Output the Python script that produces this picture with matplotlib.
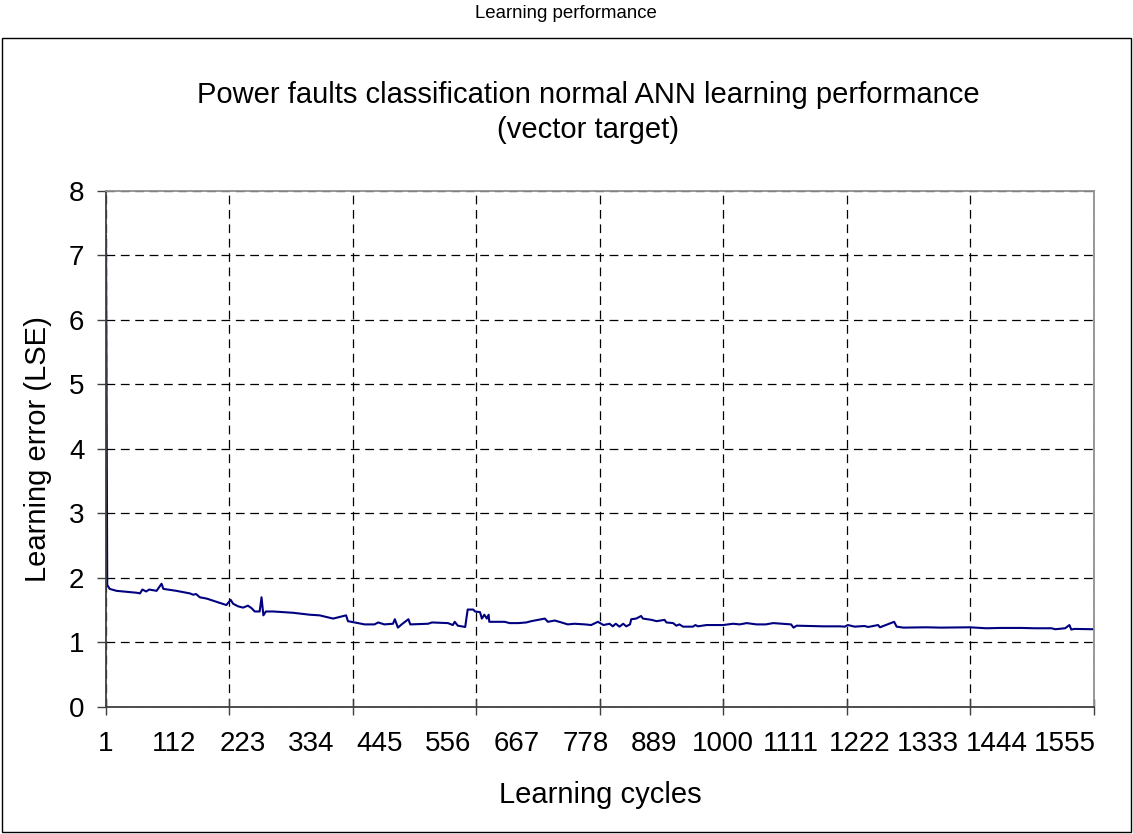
import matplotlib
matplotlib.use("Agg")
import matplotlib.pyplot as plt
from matplotlib.patches import Rectangle

plt.rcParams['font.family'] = ['Liberation Sans', 'DejaVu Sans']

# ---------------- DATA ----------------

cycles = [1, 3, 7, 18, 51, 56, 60, 66, 71, 83, 91, 94, 115, 137, 142, 147, 153,
          164, 180, 196, 203, 207, 215, 223, 231, 237, 242, 250, 253, 256, 260,
          272, 304, 331, 347, 369, 390, 393, 404, 420, 436, 442, 452, 466, 469,
          474, 480, 491, 494, 523, 529, 555, 563, 566, 571, 583, 587, 596, 599,
          607, 610, 614, 618, 621, 622, 647, 655, 669, 682, 690, 701, 712, 717,
          728, 739, 749, 760, 777, 787, 798, 807, 817, 822, 827, 833, 839, 844,
          850, 852, 860, 868, 871, 885, 893, 906, 909, 920, 925, 930, 936, 952,
          956, 960, 974, 1001, 1017, 1028, 1039, 1055, 1070, 1082, 1111, 1115,
          1120, 1163, 1190, 1198, 1203, 1214, 1230, 1236, 1252, 1255, 1278, 1282,
          1293, 1330, 1354, 1401, 1427, 1450, 1484, 1505, 1533, 1539, 1555, 1562,
          1565, 1570, 1600]

error = [7.30, 1.89, 1.83, 1.80, 1.77, 1.76, 1.82, 1.79, 1.82, 1.80, 1.91, 1.83,
         1.80, 1.76, 1.74, 1.75, 1.70, 1.68, 1.63, 1.58, 1.66, 1.60, 1.56, 1.54,
         1.57, 1.53, 1.48, 1.48, 1.70, 1.42, 1.48, 1.48, 1.46, 1.43, 1.42, 1.37,
         1.42, 1.33, 1.31, 1.28, 1.28, 1.31, 1.28, 1.29, 1.36, 1.23, 1.28, 1.36,
         1.28, 1.29, 1.31, 1.30, 1.27, 1.32, 1.26, 1.24, 1.51, 1.51, 1.48, 1.47,
         1.37, 1.43, 1.37, 1.43, 1.32, 1.32, 1.30, 1.30, 1.31, 1.33, 1.35, 1.37,
         1.32, 1.34, 1.31, 1.28, 1.29, 1.28, 1.27, 1.32, 1.27, 1.29, 1.25, 1.29,
         1.245, 1.29, 1.25, 1.28, 1.36, 1.37, 1.41, 1.37, 1.35, 1.33, 1.35, 1.31,
         1.30, 1.26, 1.28, 1.245, 1.245, 1.27, 1.25, 1.27, 1.27, 1.29, 1.28, 1.30,
         1.28, 1.28, 1.30, 1.28, 1.23, 1.26, 1.25, 1.25, 1.245, 1.27, 1.245,
         1.255, 1.24, 1.27, 1.235, 1.32, 1.245, 1.23, 1.235, 1.23, 1.235, 1.22,
         1.225, 1.225, 1.22, 1.22, 1.205, 1.22, 1.27, 1.20, 1.21, 1.205]

x_labels = [1, 112, 223, 334, 445, 556, 667, 778, 889, 1000, 1111, 1222, 1333,
            1444, 1555]
x_grid = [1, 201, 401, 601, 801, 1001, 1201, 1401, 1601]
y_ticks = [0, 1, 2, 3, 4, 5, 6, 7, 8]

# ---------------- FIGURE ----------------

W, H = 1133, 834
fig = plt.figure(figsize=(W / 100, H / 100), dpi=100)

# outer chart border
fig.patches.append(Rectangle((2 / W, 2 / H), 1129 / W, 794 / H,
                             transform=fig.transFigure, fill=False,
                             edgecolor="black", linewidth=1.0))

ax = fig.add_axes([106 / W, 1 - 707 / H, 987.5 / W, 516.3 / H])

ax.plot(cycles, error, color="#000080", linewidth=1.5)

ax.set_xlim(1, 1601)
ax.set_ylim(0, 8)

# gridlines / tick marks every 200 cycles, labels every 111
ax.xaxis.remove_overlapping_locs = False
ax.set_xticks(x_grid)
ax.set_xticklabels([])
ax.set_xticks(x_labels, minor=True)
ax.set_xticklabels([str(v) for v in x_labels], minor=True)
ax.tick_params(axis="x", which="major", direction="inout", length=12,
               width=1.0, color="#404040")
ax.tick_params(axis="x", which="minor", length=0, pad=17, labelsize=20)

ax.set_yticks(y_ticks)
ax.tick_params(axis="y", direction="out", length=6.5, width=1.0,
               color="#404040", pad=9, labelsize=20)

ax.grid(True, which="major", color="black", linestyle=(0, (7, 4.5)),
        linewidth=0.9)

ax.spines["left"].set_color("#404040")
ax.spines["bottom"].set_color("#404040")
ax.spines["top"].set_color("#909090")
ax.spines["right"].set_color("#909090")
for s in ax.spines.values():
    s.set_linewidth(1.3)

# ---------------- TEXTS ----------------

fig.text(566 / W, 1 - 13 / H, "Learning performance", ha="center",
         va="center", fontsize=13.4)
fig.text(588 / W, 1 - 95 / H,
         "Power faults classification normal ANN learning performance",
         ha="center", va="center", fontsize=21)
fig.text(588 / W, 1 - 130 / H, "(vector target)", ha="center", va="center",
         fontsize=21)
fig.text(600 / W, 1 - 795 / H, "Learning cycles", ha="center", va="center",
         fontsize=21)
fig.text(38 / W, 1 - 449 / H, "Learning error (LSE)", ha="center",
         va="center", rotation=90, fontsize=21)

fig.savefig("out.png", dpi=100)
